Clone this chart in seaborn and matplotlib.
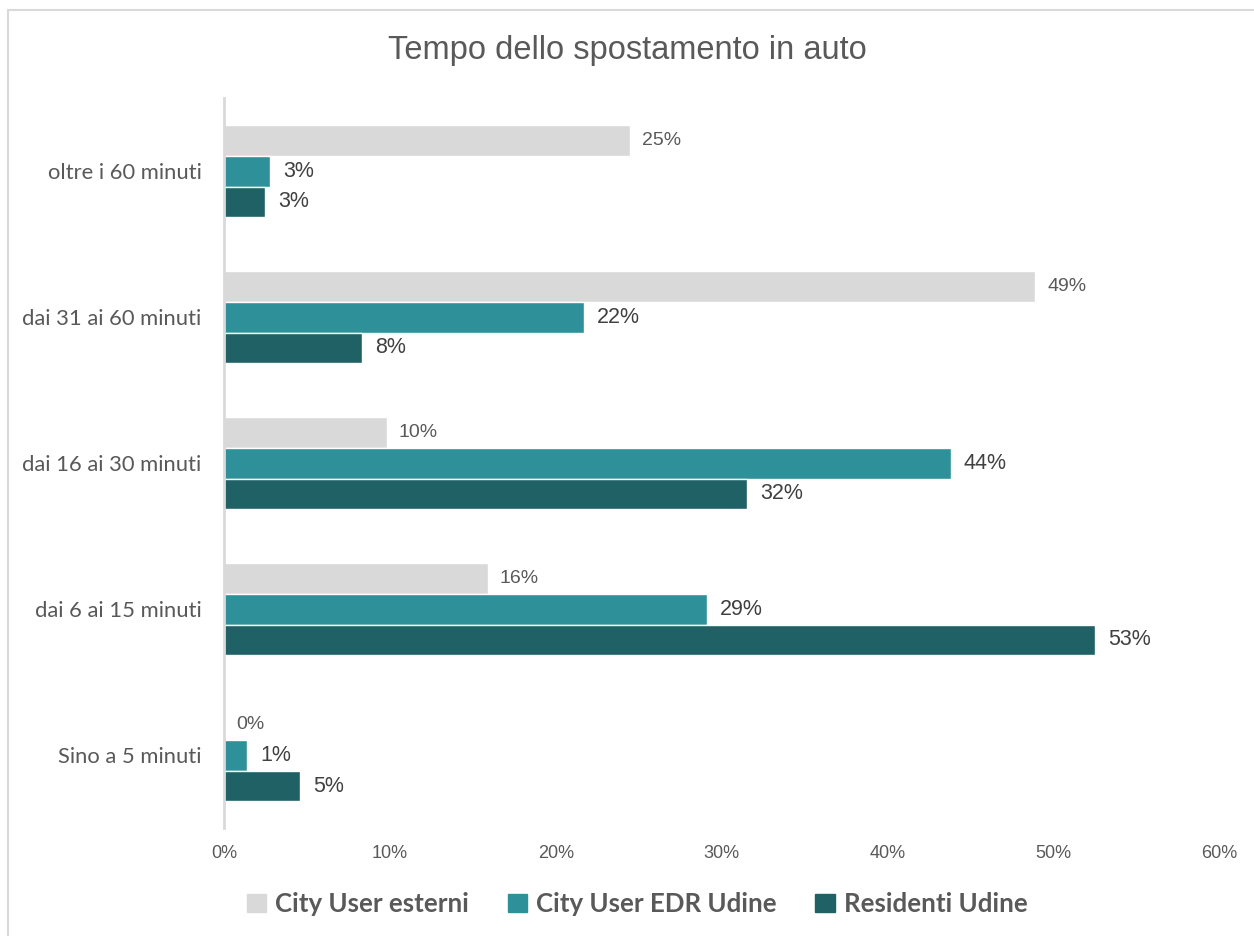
import matplotlib
matplotlib.use("Agg")
import math
import matplotlib.pyplot as plt
import seaborn as sns
import pandas as pd
from matplotlib.patches import Rectangle

categories = ["oltre i 60 minuti", "dai 31 ai 60 minuti", "dai 16 ai 30 minuti",
              "dai 6 ai 15 minuti", "Sino a 5 minuti"]
series = ["City User esterni", "City User EDR Udine", "Residenti Udine"]
city_esterni = [24.5, 48.9, 9.8, 15.9, 0.0]
city_edr = [2.8, 21.7, 43.8, 29.1, 1.4]
residenti = [2.5, 8.3, 31.5, 52.5, 4.6]
colors = ["#D9D9D9", "#2E9199", "#1F6165"]
xticks = [0, 10, 20, 30, 40, 50, 60]

sns.set_theme(style="white")
plt.rcParams['font.family'] = ['Liberation Sans', 'DejaVu Sans']

rows = []
for s, vals in zip(series, [city_esterni, city_edr, residenti]):
    for c, v in zip(categories, vals):
        rows.append({"cat": c, "serie": s, "val": v})
df = pd.DataFrame(rows)

fig = plt.figure(figsize=(12.54, 9.36), dpi=100)
ax = fig.add_axes([0.1786, 0.115, 0.7938, 0.78])
sns.barplot(data=df, y="cat", x="val", hue="serie", order=categories,
            hue_order=series, palette=colors, orient="h", width=0.63,
            saturation=1, ax=ax, legend=False)

ax.set_xlim(0, 60)
ax.set_xticks(xticks)
ax.set_xticklabels([f"{t}%" for t in xticks], color="#595959", fontsize=13)
ax.tick_params(axis="x", length=0, pad=12)
ax.tick_params(axis="y", length=0, pad=16, labelcolor="#595959")
for t in ax.get_yticklabels():
    t.set_fontfamily(["Lato", "DejaVu Sans"])
    t.set_fontsize(15.8)
ax.set_xlabel("")
ax.set_ylabel("")
for sp in ["top", "right", "bottom"]:
    ax.spines[sp].set_visible(False)
ax.spines["left"].set_color("#D9D9D9")
ax.spines["left"].set_linewidth(2)
ax.set_ylim(4.5, -0.5)

for i, cont in enumerate(ax.containers):
    labels = [f"{math.floor(r.get_width() + 0.5)}%" for r in cont]
    if i == 0:
        ax.bar_label(cont, labels=labels, padding=8.5, fontsize=14, color="#595959")
    else:
        ax.bar_label(cont, labels=labels, padding=9.5, fontsize=15.5, color="#404040")

fig.text(0.5, 1 - 50/936, "Tempo dello spostamento in auto", ha="center", va="center",
         fontsize=23.5, color="#595959")

handles = [Rectangle((0, 0), 1, 1, color=c) for c in colors]
fig.legend(handles, series, loc="center", bbox_to_anchor=(0.508, 1 - 904/936), ncol=3,
           frameon=False, handlelength=0.75, handleheight=0.75,
           columnspacing=1.5, handletextpad=0.35,
           prop={"family": ["Lato", "DejaVu Sans"], "weight": "bold", "size": 18.6})
for t in fig.legends[0].get_texts():
    t.set_color("#595959")

fig.patches.append(Rectangle((8/1254, -0.01), 1.0, 1 - 10/936 + 0.01, transform=fig.transFigure,
                             fill=False, edgecolor="#D9D9D9", linewidth=1.5))

fig.savefig("out.png", dpi=100)
